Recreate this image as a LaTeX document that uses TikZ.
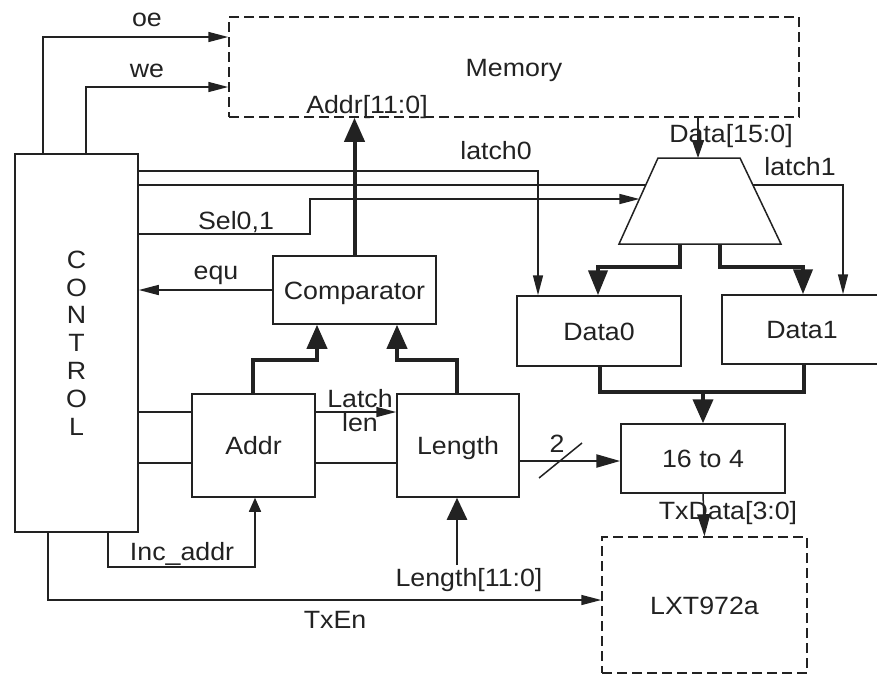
\documentclass[tikz,border=0pt]{standalone}
\usepackage{fontspec}
\setmainfont{Liberation Sans}[FakeStretch=1.07]
\usetikzlibrary{arrows.meta}
\definecolor{ink}{HTML}{222222}
\begin{document}
\begin{tikzpicture}[x=1pt,y=-1pt,line join=miter,
  every node/.style={font=\fontsize{25}{27.8}\selectfont, text=ink},
  blk/.style={draw=ink, line width=1.5pt, inner sep=0pt, text height=18pt, text depth=0pt},
  dbox/.style={blk, dash pattern=on 10pt off 5pt},
  lbl/.style={inner sep=0pt, text height=18pt, text depth=0pt},
  wire/.style={draw=ink, line width=1.5pt},
  bus/.style={draw=ink, line width=4pt},
  midbus/.style={draw=ink, line width=2.5pt},
  tarr/.style={wire, -{Triangle[length=20pt,width=10pt]}},
  barr/.style={bus, -{Triangle[length=24pt,width=20pt]}},
]
\useasboundingbox (0,0) rectangle (877,675);
\clip (0,0) rectangle (877,675);

% blocks
\node[dbox, minimum width=570pt, minimum height=100pt] (mem) at (514,67) {Memory};
\node[draw=ink, line width=1.5pt, inner sep=0pt, align=center, minimum width=123pt, minimum height=378pt] (ctrl) at (76.5,343) {C\\O\\N\\T\\R\\O\\L};
\node[blk, minimum width=163pt, minimum height=68pt] (cmp) at (354.5,290) {Comparator};
\node[blk, minimum width=123pt, minimum height=103pt] (addr) at (253.5,445.5) {Addr};
\node[blk, minimum width=122pt, minimum height=103pt] (len) at (458,445.5) {Length};
\node[blk, minimum width=164pt, minimum height=70pt] (d0) at (599,331) {Data0};
\node[blk, minimum width=160pt, minimum height=69pt] (d1) at (802,329.5) {Data1};
\node[blk, minimum width=164pt, minimum height=69pt] (s16) at (703,458.5) {16 to 4};
\node[dbox, minimum width=205pt, minimum height=136pt] (lxt) at (704.5,605) {LXT972a};

% mux geometry
\coordinate (mtl) at (658,158);
\coordinate (mtr) at (740,158);
\coordinate (mbr) at (781,244);
\coordinate (mbl) at (619,244);
\coordinate (muxin) at (698,158);
\coordinate (selin) at (639.4,199);

% latch1 passes behind the mux
\draw[tarr] (ctrl.east |- 0,185) -- (843,185) -- (d1.north -| 843,0);
\filldraw[fill=white, draw=ink, line width=1.5pt] (mtl) -- (mtr) -- (mbr) -- (mbl) -- cycle;

% control outputs
\draw[tarr] (ctrl.north -| 43,0) -- (43,37) -- (mem.west |- 0,37);
\draw[tarr] (ctrl.north -| 86,0) -- (86,87) -- (mem.west |- 0,87);
\draw[tarr] (ctrl.east |- 0,171) -- (538,171) -- (d0.north -| 538,0);
\draw[tarr] (ctrl.east |- 0,234) -- (310,234) -- (310,199) -- (selin);
\draw[tarr] (cmp.west) -- (cmp.west -| ctrl.east);
\draw[wire] (ctrl.east |- 0,412) -- (addr.west |- 0,412);
\draw[wire] (ctrl.east |- 0,463) -- (addr.west |- 0,463);
\draw[wire, -{Triangle[length=14pt,width=12pt]}] (ctrl.south -| 108,0) -- (108,567) -- (255,567) -- (addr.south -| 255,0);
\draw[tarr] (ctrl.south -| 48,0) -- (48,600) -- (lxt.west |- 0,600);

% address / length paths
\draw[barr] (cmp.north) -- (cmp.north |- mem.south);
\draw[barr] (addr.north -| 253,0) -- (253,360) -- (317,360) -- (cmp.south -| 317,0);
\draw[barr] (len.north -| 457,0) -- (457,360) -- (397,360) -- (cmp.south -| 397,0);
\draw[tarr] (addr.east |- 0,412) -- (len.west |- 0,412);
\draw[wire] (addr.east |- 0,463) -- (len.west |- 0,463);
\coordinate (lin) at (457,565);
\draw[midbus, -{Triangle[length=22pt,width=20pt]}] (lin) -- (len.south -| lin);
\draw[midbus, -{Triangle[length=24pt,width=13pt]}] (len.east |- 0,461) -- (s16.west |- 0,461);
\draw[wire] (539,478) -- (582,443);

% data paths
\draw[wire, -{Triangle[length=18pt,width=12pt]}] (mem.south -| muxin) -- (muxin);
\draw[bus, -{Triangle[length=25pt,width=19pt]}] (680,244) -- (680,267) -- (598,267) -- (d0.north -| 598,0);
\draw[bus, -{Triangle[length=25pt,width=19pt]}] (720,244) -- (720,267) -- (803,267) -- (d1.north -| 803,0);
\draw[bus] (d0.south -| 600,0) -- (600,392) -- (804,392) -- (d1.south -| 804,0);
\draw[barr] (703,392) -- (s16.north);
\draw[wire, -{Triangle[length=22pt,width=13pt]}] (s16.south) -- (lxt.north);

% labels
\node[lbl] (loe) at (147,17.5) {oe};
\node[lbl] (lwe) at (147,68.5) {we};
\node[lbl] (laddr) at (367,104) {Addr[11:0]};
\node[lbl] (ldata) at (731,133) {Data[15:0]};
\node[lbl] (llatch0) at (496,150) {latch0};
\node[lbl] (llatch1) at (800,166) {latch1};
\node[lbl] (lsel) at (236,220) {Sel0,1};
\node[lbl] (lequ) at (216,270) {equ};
\node[lbl] (llatch) at (360,398) {Latch};
\node[lbl] (llen) at (360,422) {len};
\node[lbl] (ltwo) at (557,443) {2};
\node[lbl] (ltx) at (728,510) {TxData[3:0]};
\node[lbl] (linc) at (182,551) {Inc\_addr};
\node[lbl] (llength) at (469,577) {Length[11:0]};
\node[lbl] (ltxen) at (335,619) {TxEn};
\end{tikzpicture}
\end{document}
